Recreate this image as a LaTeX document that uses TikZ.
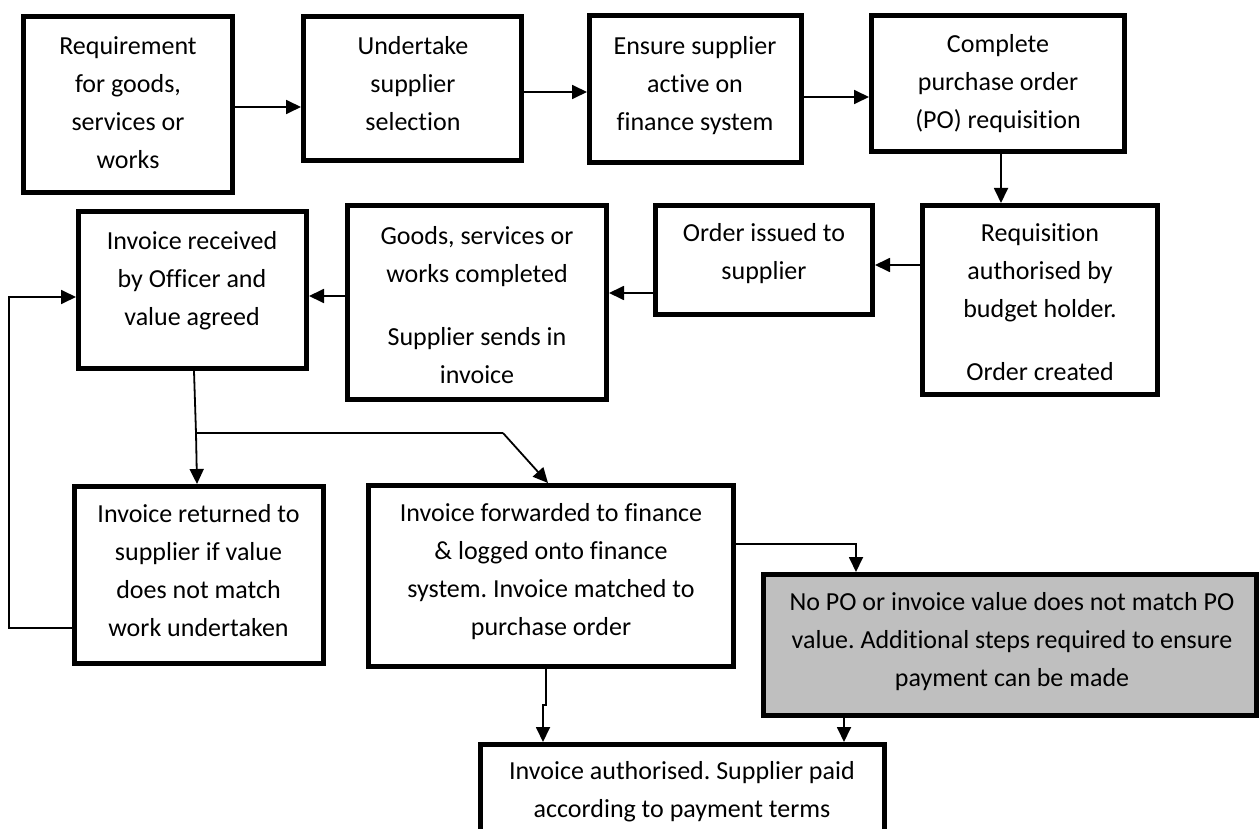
\documentclass[tikz,border=0pt]{standalone}
\usepackage{fontspec}
\setmainfont{Carlito}[Ligatures=NoCommon]
\usetikzlibrary{arrows.meta,fit}
\definecolor{shade}{HTML}{BFBFBF}
\frenchspacing
% centred block of lines; each row carries a strut so blocks centre evenly
\newcommand\stack[1]{\begin{tabular}{@{}c@{}}#1\end{tabular}}
\begin{document}
\begin{tikzpicture}[x=1pt,y=-1pt,
  box/.style={rectangle,draw=black,line width=5pt,fill=white,inner sep=0pt},
  txt/.style={inner sep=0pt,text=black,font=\fontsize{26}{38}\selectfont},
  wire/.style={line width=1.8pt,draw=black},
  arr/.style={wire,-{Triangle[length=15pt,width=14pt]}}]
\useasboundingbox (0,0) rectangle (1259,829);
\clip (0,0) rectangle (1259,829);
\fill[white] (0,0) rectangle (1259,829);

% ---- boxes ----
\node[box,fit={(23.5,16.5) (232.5,192.5)}]   (b1)  {};
\node[box,fit={(303.5,16.5) (521.5,160.5)}]  (b2)  {};
\node[box,fit={(589.5,15.5) (801.5,162.5)}]  (b3)  {};
\node[box,fit={(871.5,15.5) (1124.5,151.5)}] (b4)  {};
\node[box,fit={(922.5,205.5) (1157.5,394.5)}](b5)  {};
\node[box,fit={(655.5,205.5) (872.5,314.5)}] (b6)  {};
\node[box,fit={(347.5,205.5) (606.5,399.5)}] (b7)  {};
\node[box,fit={(78.5,211.5) (306.5,368.5)}]  (b8)  {};
\node[box,fit={(74.5,486.5) (323.5,663.5)}]  (b9)  {};
\node[box,fit={(368.5,485.5) (733.5,666.5)}] (b10) {};
\node[box,fill=shade,fit={(763.5,574.5) (1256.5,715.5)}] (b11) {};
\node[box,fit={(480.5,744.5) (884.5,870)}]   (b12) {};

% ---- texts ----
\node[txt] (t1)  at (128,103.5)  {\stack{Requirement\\for goods,\\services or\\works}};
\node[txt] (t2)  at (413,85)     {\stack{Undertake\\supplier\\selection}};
\node[txt] (t3)  at (695,84.5)   {\stack{Ensure supplier\\active on\\finance system}};
\node[txt] (t4)  at (998,83)     {\stack{Complete\\purchase order\\(PO) requisition}};
\node[txt] (t5)  at (1040,303)   {\stack{Requisition\\authorised by\\budget holder.\\[25pt]Order created}};
\node[txt] (t6)  at (764,252.5)  {\stack{Order issued to\\supplier}};
\node[txt] (t7)  at (477,306)    {\stack{Goods, services or\\works completed\\[25pt]Supplier sends in\\invoice}};
\node[txt] (t8)  at (192,279.5)  {\stack{Invoice received\\by Officer and\\value agreed}};
\node[txt] (t9)  at (198.5,571.5){\stack{Invoice returned to\\supplier if value\\does not match\\work undertaken}};
\node[txt] (t10) at (551,571)    {\stack{Invoice forwarded to finance\\\& logged onto finance\\system. Invoice matched to\\purchase order}};
\node[txt] (t11) at (1012,640.5) {\stack{No PO or invoice value does not match PO\\value. Additional steps required to ensure\\payment can be made}};
\node[txt] (t12) at (682,790.5)  {\stack{Invoice authorised. Supplier paid\\according to payment terms}};

% ---- connectors ----
\draw[arr] (b1.east |- 0,107) -- (b2.west |- 0,107);
\draw[arr] (b2.east |- 0,92)  -- (b3.west |- 0,92);
\draw[arr] (b3.east |- 0,97)  -- (b4.west |- 0,97);
\draw[arr] (b4.south -| 1001,0) -- (b5.north -| 1001,0);
\draw[arr] (b5.west |- 0,265) -- (b6.east |- 0,265);
\draw[arr] (b6.west |- 0,293) -- (b7.east |- 0,293);
\draw[arr] (b7.west |- 0,296) -- (b8.east |- 0,296);

% split below the received invoice
\coordinate (fork) at (196,433);
\coordinate (bend) at (503,433);
\draw[wire] (b8.south -| 194,0) -- (fork);
\draw[arr]  (fork) -- (b9.north -| 197,0);
\draw[wire] (fork) -- (bend);
\draw[arr]  (bend) -- (b10.north -| 548,0);

% returned invoice loops back
\draw[arr] (b9.west |- 0,628) -- (9,628) -- (9,297) -- (b8.west |- 0,297);

% forwarded invoice onwards
\draw[arr] (b10.south -| 546,0) -- (546,705) -- (543,705) -- (b12.north -| 543,0);
\draw[arr] (b10.east |- 0,544) -| (b11.north -| 856,0);
\draw[arr] (b11.south -| 844,0) -- (b12.north -| 844,0);
\end{tikzpicture}
\end{document}
